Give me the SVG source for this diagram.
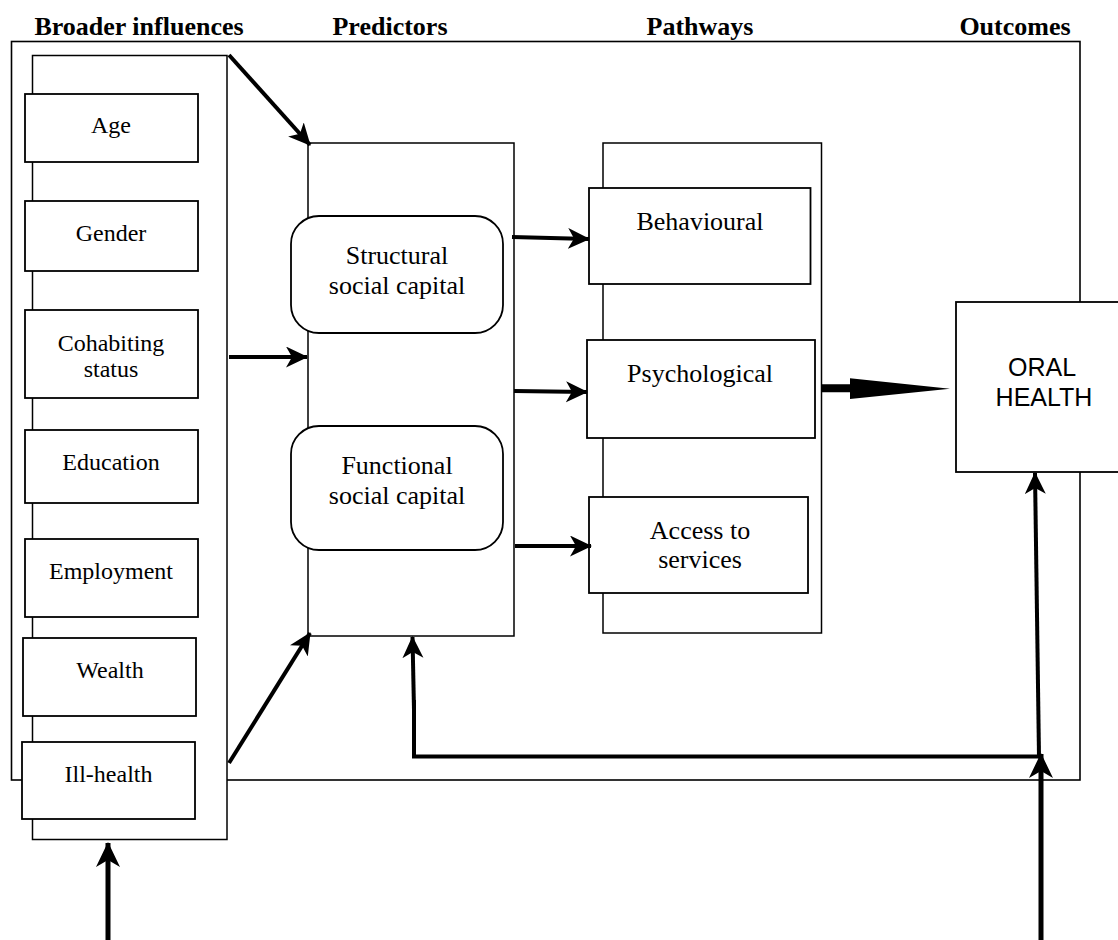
<svg xmlns="http://www.w3.org/2000/svg" width="1118" height="940" viewBox="0 0 1118 940">
<defs>
<style>
.frame{fill:none;stroke:#000;stroke-width:1.6}
.cont{fill:#fff;stroke:#000;stroke-width:1.5}
.box{fill:#fff;stroke:#000;stroke-width:1.8}
.hd{font-family:"Liberation Serif","Times New Roman",serif;font-weight:bold;font-size:26px;text-anchor:middle;fill:#000}
.t24{font-family:"Liberation Serif","Times New Roman",serif;font-size:24px;text-anchor:middle;fill:#000}
.t26{font-family:"Liberation Serif","Times New Roman",serif;font-size:26px;text-anchor:middle;fill:#000}
.sans{font-family:"Liberation Sans",Arial,sans-serif;font-size:25px;text-anchor:middle;fill:#000}
.arr{fill:none;stroke:#000;stroke-width:4;marker-end:url(#ah)}
.arrb{fill:none;stroke:#000;stroke-width:5;marker-end:url(#ahb)}
.ln{fill:none;stroke:#000;stroke-width:4}
</style>
<marker id="ah" markerUnits="userSpaceOnUse" markerWidth="24" markerHeight="22" refX="21" refY="10.5" orient="auto">
<path d="M0,0 L22,10.5 L0,21 L6,10.5 z" fill="#000"/>
</marker>
<marker id="ahb" markerUnits="userSpaceOnUse" markerWidth="27" markerHeight="26" refX="24" refY="12" orient="auto">
<path d="M0,0 L25,12 L0,24 L7,12 z" fill="#000"/>
</marker>
</defs>

<g id="headings">
<text class="hd" x="139" y="35">Broader influences</text>
<text class="hd" x="390" y="35">Predictors</text>
<text class="hd" x="700" y="35">Pathways</text>
<text class="hd" x="1015" y="35">Outcomes</text>
</g>

<rect id="outer-frame" class="frame" x="11.5" y="41.5" width="1068.5" height="738.5"/>

<g id="broader-influences">
<rect class="cont" x="32.5" y="55.5" width="194.5" height="784"/>
<g id="age"><rect class="box" x="25" y="94" width="173" height="68"/><text class="t24" x="111" y="133">Age</text></g>
<g id="gender"><rect class="box" x="25" y="201" width="173" height="70"/><text class="t24" x="111" y="241">Gender</text></g>
<g id="cohabiting"><rect class="box" x="25" y="310" width="173" height="88"/><text class="t24" x="111" y="351">Cohabiting</text><text class="t24" x="111" y="377">status</text></g>
<g id="education"><rect class="box" x="25" y="430" width="173" height="73"/><text class="t24" x="111" y="470">Education</text></g>
<g id="employment"><rect class="box" x="25" y="539" width="173" height="78"/><text class="t24" x="111" y="579">Employment</text></g>
<g id="wealth"><rect class="box" x="23" y="638" width="173" height="78"/><text class="t24" x="110" y="678">Wealth</text></g>
<g id="ill-health"><rect class="box" x="22" y="742" width="173" height="77"/><text class="t24" x="108.5" y="782">Ill-health</text></g>
</g>

<g id="predictors">
<rect class="cont" x="308" y="143" width="206" height="493"/>
<g id="structural"><rect class="box" x="291" y="216" width="212" height="117" rx="28" ry="28"/><text class="t26" x="397" y="264">Structural</text><text class="t26" x="397" y="294">social capital</text></g>
<g id="functional"><rect class="box" x="291" y="426" width="212" height="124" rx="28" ry="28"/><text class="t26" x="397" y="474">Functional</text><text class="t26" x="397" y="504">social capital</text></g>
</g>

<g id="pathways">
<rect class="cont" x="603" y="143" width="218.5" height="490"/>
<g id="behavioural"><rect class="box" x="589" y="188" width="221.5" height="96"/><text class="t26" x="700" y="230">Behavioural</text></g>
<g id="psychological"><rect class="box" x="587" y="340" width="228" height="98"/><text class="t26" x="700" y="382">Psychological</text></g>
<g id="access"><rect class="box" x="589" y="497" width="219" height="96"/><text class="t26" x="700" y="539">Access to</text><text class="t26" x="700" y="568">services</text></g>
</g>

<g id="oral-health">
<rect class="box" x="956" y="302" width="174" height="170"/>
<text class="sans" x="1042" y="376">ORAL</text>
<text class="sans" x="1044" y="406">HEALTH</text>
</g>

<g id="connectors">
<line class="arr" x1="229" y1="55" x2="310" y2="145"/>
<line class="arr" x1="229" y1="357" x2="307" y2="357"/>
<line class="arr" x1="229" y1="763" x2="310" y2="633"/>
<line class="arr" x1="512" y1="237" x2="589" y2="239"/>
<line class="arr" x1="514" y1="391" x2="587" y2="392"/>
<line class="arr" x1="515" y1="546" x2="591" y2="546"/>
<path d="M821,384.3 L850,384.3 L850,378.3 L950,388.8 L850,399 L850,392.3 L821,392.3 z" fill="#000"/>
<polyline class="ln" points="1039,756.5 414,756.5 414,700"/>
<line class="arr" x1="414" y1="710" x2="412.5" y2="637"/>
<line class="arr" x1="1039" y1="756.5" x2="1035" y2="473"/>
<line class="arrb" x1="1041" y1="940" x2="1041" y2="754"/>
<line class="arrb" x1="108" y1="940" x2="108" y2="843"/>
</g>
</svg>
